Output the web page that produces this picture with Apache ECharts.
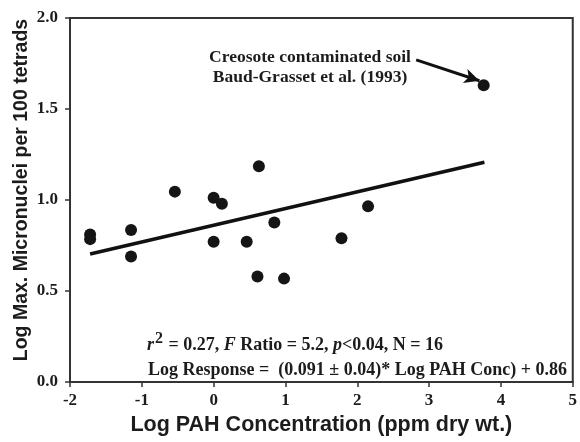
<!DOCTYPE html>
<html>
<head>
<meta charset="utf-8">
<script src="https://cdn.jsdelivr.net/npm/echarts@6/dist/echarts.min.js"></script>
<style>
  html, body { margin: 0; padding: 0; background: #fff; }
  #chart { width: 580px; height: 442px; }
</style>
</head>
<body>
<div id="chart"></div>
<script>
// observed points (log PAH conc, log max micronuclei)
var pahLog = [-1.72, -1.72, -1.15, -1.15, -0.54, 0.0, 0.115, 0.0, 0.46, 0.63, 0.61, 0.845, 0.98, 1.78, 2.15, 3.76];
var mnLog  = [0.81, 0.785, 0.835, 0.69, 1.046, 1.013, 0.98, 0.77, 0.77, 1.185, 0.58, 0.877, 0.568, 0.79, 0.965, 1.63];

// fitted line end points
var fitX = [-1.72, 3.77];
var fitY = [0.703, 1.207];

// arrow to the creosote point
var arrowFrom = [2.82, 1.77];
var arrowTo = [3.70, 1.655];

var xTicks = [-2, -1, 0, 1, 2, 3, 4, 5];
var yTicks = [0.0, 0.5, 1.0, 1.5, 2.0];

var serif = '"Liberation Serif", "Times New Roman", serif';
var sans = '"Liberation Sans", Arial, sans-serif';
var ink = '#1c1c1c';

var points = pahLog.map(function (x, i) { return [x, mnLog[i]]; });
var fit = fitX.map(function (x, i) { return [x, fitY[i]]; });

var chart = echarts.init(document.getElementById('chart'));
chart.setOption({
    animation: false,
    backgroundColor: '#fff',
    grid: {
        left: 70, right: 4, top: 18, bottom: 60,
        show: true, borderColor: '#333', borderWidth: 2
    },
    xAxis: {
        type: 'value',
        min: xTicks[0], max: xTicks[xTicks.length - 1], interval: 1,
        name: 'Log PAH Concentration (ppm dry wt.)',
        nameLocation: 'middle', nameGap: 28,
        nameTextStyle: { fontFamily: sans, fontWeight: 'bold', fontSize: 21.5, color: ink },
        axisLine: { onZero: false, lineStyle: { color: '#333', width: 2 } },
        axisTick: { show: true, inside: false, length: 5, lineStyle: { color: '#333', width: 1.5 } },
        axisLabel: { fontFamily: serif, fontWeight: 'bold', fontSize: 17, color: ink, margin: 10 },
        splitLine: { show: false }
    },
    yAxis: {
        type: 'value',
        min: yTicks[0], max: yTicks[yTicks.length - 1], interval: 0.5,
        axisLine: { onZero: false, lineStyle: { color: '#333', width: 2 } },
        axisTick: { show: true, inside: false, length: 5, lineStyle: { color: '#333', width: 1.5 } },
        axisLabel: {
            fontFamily: serif, fontWeight: 'bold', fontSize: 17, color: ink, margin: 12,
            formatter: function (v) { return v.toFixed(1); }
        },
        splitLine: { show: false }
    },
    series: [
        {
            type: 'line',
            data: fit,
            symbol: 'none',
            lineStyle: { color: '#111', width: 3.5 },
            z: 2,
            markLine: {
                silent: true,
                symbol: ['none', 'arrow'],
                symbolSize: [11, 15],
                label: { show: false },
                lineStyle: { color: '#111', width: 3, type: 'solid' },
                data: [[{ coord: arrowFrom }, { coord: arrowTo }]]
            }
        },
        {
            type: 'scatter',
            data: points,
            symbol: 'circle',
            symbolSize: 12,
            itemStyle: { color: '#151515', opacity: 1 },
            z: 3
        }
    ],
    graphic: [
        {
            type: 'text', x: 22, y: 190, rotation: Math.PI / 2,
            style: {
                text: 'Log Max. Micronuclei per 100 tetrads',
                font: 'bold 19.5px ' + sans, fill: ink,
                align: 'center', verticalAlign: 'middle'
            }
        },
        {
            type: 'text', x: 310, y: 57,
            style: {
                text: 'Creosote contaminated soil',
                font: 'bold 17.5px ' + serif, fill: ink,
                align: 'center', verticalAlign: 'middle'
            }
        },
        {
            type: 'text', x: 310, y: 77,
            style: {
                text: 'Baud-Grasset et al. (1993)',
                font: 'bold 17.5px ' + serif, fill: ink,
                align: 'center', verticalAlign: 'middle'
            }
        },
        {
            type: 'text', x: 147, y: 342,
            style: {
                text: '{i|r}{sup|2}{n| = 0.27, }{i|F}{n| Ratio = 5.2, }{i|p}{n|<0.04, N = 16}',
                verticalAlign: 'middle',
                rich: {
                    n: { font: 'bold 18px ' + serif, fill: ink, verticalAlign: 'bottom', height: 22 },
                    i: { font: 'italic bold 18px ' + serif, fill: ink, verticalAlign: 'bottom', height: 22 },
                    sup: { font: 'bold 16px ' + serif, fill: ink, verticalAlign: 'top', height: 22, padding: [0, 1, 6, 1] }
                }
            }
        },
        {
            type: 'text', x: 148, y: 370,
            style: {
                text: 'Log Response =  (0.091 \u00b1 0.04)* Log PAH Conc) + 0.86',
                font: 'bold 18px ' + serif, fill: ink,
                verticalAlign: 'middle'
            }
        }
    ]
});
</script>
</body>
</html>
